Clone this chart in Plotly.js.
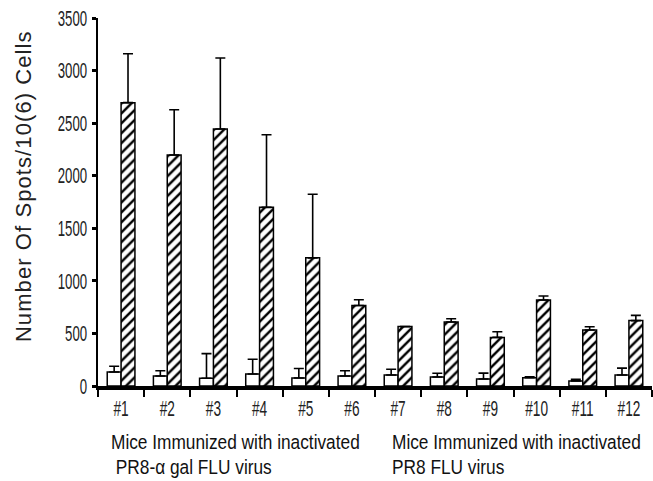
<!DOCTYPE html>
<html>
<head>
<meta charset="utf-8">
<script src="https://cdn.plot.ly/plotly-3.0.1.min.js"></script>
<style>
html, body { margin: 0; padding: 0; background: #fff; }
#chart { width: 653px; height: 481px; }
</style>
</head>
<body>
<div id="chart"></div>
<script>
const categories = ['#1','#2','#3','#4','#5','#6','#7','#8','#9','#10','#11','#12'];
const controlValues = [133, 95, 73, 114, 76, 95, 105, 86, 67, 79, 48, 105];
const controlErrors = [55, 50, 235, 140, 90, 50, 55, 35, 55, 8, 15, 65];
const hatchedValues = [2695, 2197, 2445, 1699, 1219, 765, 565, 608, 462, 818, 532, 622];
const hatchedErrors = [465, 430, 675, 690, 605, 55, 0, 32, 54, 38, 32, 50];
const yTickValues = [0, 500, 1000, 1500, 2000, 2500, 3000, 3500];
const groupLine1 = 'Mice Immunized with inactivated';
const groupLeftLine2 = '\u00a0PR8-\u03b1 gal FLU virus';
const groupRightLine2 = 'PR8 FLU virus';
const yTitle = 'Number Of Spots/10(6) Cells';

const zeros = categories.map(() => 0);
const sans = 'Liberation Sans, Arial, sans-serif';

const traces = [
  {
    type: 'bar', x: categories, y: controlValues,
    marker: { color: '#ffffff', line: { color: '#000', width: 1.5 } },
    error_y: { type: 'data', symmetric: false, array: controlErrors, arrayminus: zeros,
               color: '#000', thickness: 1.6, width: 5 },
    hoverinfo: 'none'
  },
  {
    type: 'bar', x: categories, y: hatchedValues,
    marker: { color: '#ffffff', line: { color: '#000', width: 1.5 },
              pattern: { shape: '/', fgcolor: '#000', bgcolor: '#fff', size: 7, solidity: 0.35 } },
    error_y: { type: 'data', symmetric: false, array: hatchedErrors, arrayminus: zeros,
               color: '#000', thickness: 1.6, width: 5 },
    hoverinfo: 'none'
  }
];

function py(p) { return (386 - p) / 368; }
function px(p) { return (p - 98) / 554; }

const noteFont = { family: sans, size: 18, color: '#111' };
function note(text, x, y) {
  return { text: text, xref: 'paper', yref: 'paper', x: px(x), y: py(y), align: 'left',
           xanchor: 'left', yanchor: 'middle', showarrow: false, borderpad: 0, font: noteFont };
}

const layout = {
  width: 653, height: 481,
  margin: { l: 98, r: 1, t: 18, b: 95 },
  paper_bgcolor: '#fff', plot_bgcolor: '#fff',
  showlegend: false,
  barmode: 'group', bargap: 0.4, bargroupgap: 0,
  xaxis: {
    type: 'category', showgrid: false, zeroline: false,
    showline: true, linecolor: '#000', linewidth: 4,
    ticks: 'outside', tickson: 'boundaries', ticklen: 7, tickwidth: 2, tickcolor: '#000',
    tickangle: 0,
    tickfont: { family: sans, size: 22, color: '#222' }
  },
  yaxis: {
    range: [0, 3500], showgrid: false, zeroline: false,
    showline: true, linecolor: '#000', linewidth: 2.5,
    tickvals: yTickValues, ticks: 'outside', ticklen: 4, tickwidth: 3, tickcolor: '#000',
    tickfont: { family: sans, size: 22, color: '#222' }
  },
  annotations: [
    { text: yTitle, textangle: -90, xref: 'paper', yref: 'paper',
      x: px(23), y: py(187), xanchor: 'center', yanchor: 'middle', showarrow: false,
      font: { family: sans, size: 22, color: '#222' } },
    note(groupLine1, 110, 444),
    note(groupLeftLine2, 110, 469),
    note(groupLine1, 391, 444),
    note(groupRightLine2, 391, 469)
  ]
};

// Condense glyphs horizontally (the reference uses a narrow typeface)
function condense(sel, factor) {
  document.querySelectorAll(sel).forEach(t => {
    const w = t.getComputedTextLength();
    t.setAttribute('textLength', (w * factor).toFixed(2));
    t.setAttribute('lengthAdjust', 'spacingAndGlyphs');
  });
}

Plotly.newPlot('chart', traces, layout, { displayModeBar: false, staticPlot: true }).then(() => {
  condense('.xtick text', 0.62);
  condense('.ytick text', 0.6);
  const groups = document.querySelectorAll('.annotation');
  groups.forEach((g, i) => {
    const t = g.querySelector('.annotation-text');
    if (!t) return;
    const w = t.getComputedTextLength();
    if (i === 0) {
      t.setAttribute('textLength', (w * 1.1).toFixed(2));
      t.setAttribute('lengthAdjust', 'spacing');
    } else {
      t.setAttribute('textLength', (w * 0.96).toFixed(2));
      t.setAttribute('lengthAdjust', 'spacingAndGlyphs');
      // tall narrow letterforms, grown upward from the bottom of the line
      t.style.transformBox = 'fill-box';
      t.style.transformOrigin = 'left bottom';
      t.style.transform = 'scaleY(1.16)';
    }
  });
});
</script>
</body>
</html>
